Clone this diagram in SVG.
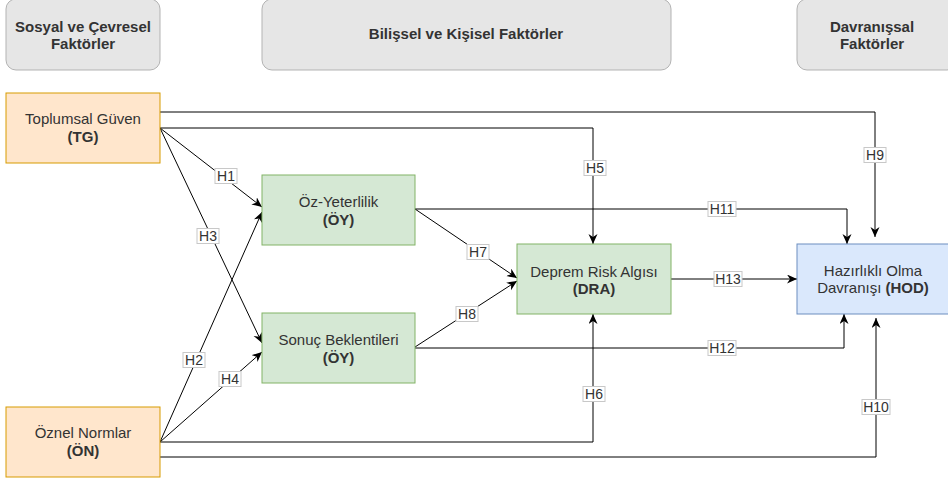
<svg xmlns="http://www.w3.org/2000/svg" width="948" height="479" viewBox="0 0 948 479">
<style>
text{font-family:"Liberation Sans",Arial,sans-serif;fill:#333;text-anchor:middle}
.hdr rect{fill:#e6e6e6;stroke:#b3b3b3;stroke-width:1}
.hdr text{font-size:15px;font-weight:bold}
.node text{font-size:15px}
.b{font-weight:bold}
.org{fill:#ffe6cc;stroke:#d79b00}
.grn{fill:#d5e8d4;stroke:#82b366}
.blu{fill:#dae8fc;stroke:#6c8ebf}
.edges path{fill:none;stroke:#000;stroke-width:1;marker-end:url(#arr)}
.lbl rect{fill:#fff;stroke:#c8c8c8;stroke-width:1}
.lbl text{font-size:14px}
</style>
<defs>
<marker id="arr" markerUnits="userSpaceOnUse" markerWidth="12" markerHeight="10" refX="10" refY="4.5" orient="auto" viewBox="0 0 12 10">
<path d="M0,0 L10,4.5 L0,9 L3,4.5 z" fill="#000"/>
</marker>
</defs>
<rect width="948" height="479" fill="#fff"/>
<g id="hdr-sosyal" class="hdr"><rect x="6" y="-1" width="154" height="71" rx="10"/><text x="83" y="32">Sosyal ve Çevresel</text><text x="83" y="49">Faktörler</text></g>
<g id="hdr-bilissel" class="hdr"><rect x="262" y="-1" width="409" height="71" rx="10"/><text x="466" y="39">Bilişsel ve Kişisel Faktörler</text></g>
<g id="hdr-davranissal" class="hdr"><rect x="797" y="-1" width="160" height="71" rx="10"/><text x="872" y="32">Davranışsal</text><text x="872" y="49">Faktörler</text></g>

<g class="edges">
<path d="M160,112 H875 V237"/>
<path d="M160,128 H593 V244"/>
<path d="M415,209 H847 V244"/>
<path d="M415,348 H844 V314"/>
<path d="M160,457 H876 V318"/>
<path d="M160,442 H593 V314"/>
<path d="M671,279 H797"/>
<path d="M160,128 L262,207"/>
<path d="M160,128 L262,343"/>
<path d="M160,442 L262,212"/>
<path d="M160,442 L262,352"/>
<path d="M415,209 L517,278"/>
<path d="M415,347 L517,281"/>
</g>
<g class="lbl">
<rect x="215" y="168.5" width="22" height="15"/><text x="226" y="181">H1</text>
<rect x="197" y="228.5" width="22" height="15"/><text x="208" y="241">H3</text>
<rect x="183" y="352.5" width="22" height="15"/><text x="194" y="365">H2</text>
<rect x="219" y="371.5" width="22" height="15"/><text x="230" y="384">H4</text>
<rect x="584" y="160.5" width="22" height="15"/><text x="595" y="173">H5</text>
<rect x="583" y="386.5" width="22" height="15"/><text x="594" y="399">H6</text>
<rect x="467" y="244.5" width="22" height="15"/><text x="478" y="257">H7</text>
<rect x="456" y="306.5" width="22" height="15"/><text x="467" y="319">H8</text>
<rect x="864" y="147.5" width="22" height="15"/><text x="875" y="160">H9</text>
<rect x="862" y="399.5" width="28" height="15"/><text x="876" y="412">H10</text>
<rect x="708" y="201.5" width="28" height="15"/><text x="722" y="214">H11</text>
<rect x="708" y="340.5" width="28" height="15"/><text x="722" y="353">H12</text>
<rect x="714" y="271.5" width="28" height="15"/><text x="728" y="284">H13</text>
</g>

<g id="TG" class="node"><rect class="org" x="6" y="93" width="154" height="70"/><text x="83" y="124">Toplumsal Güven</text><text class="b" x="83" y="142">(TG)</text></g>
<g id="ON" class="node"><rect class="org" x="6" y="407" width="154" height="70"/><text x="83" y="438">Öznel Normlar</text><text class="b" x="83" y="456">(ÖN)</text></g>
<g id="OY" class="node"><rect class="grn" x="262" y="175" width="153" height="70"/><text x="338.5" y="207">Öz-Yeterlilik</text><text class="b" x="338.5" y="225">(ÖY)</text></g>
<g id="SB" class="node"><rect class="grn" x="262" y="313" width="153" height="70"/><text x="338.5" y="345">Sonuç Beklentileri</text><text class="b" x="338.5" y="363">(ÖY)</text></g>
<g id="DRA" class="node"><rect class="grn" x="517" y="244" width="154" height="70"/><text x="594" y="277">Deprem Risk Algısı</text><text class="b" x="594" y="294">(DRA)</text></g>
<g id="HOD" class="node"><rect class="blu" x="797" y="244" width="160" height="70"/><text x="873" y="276">Hazırlıklı Olma</text><text x="873" y="293">Davranışı <tspan class="b">(HOD)</tspan></text></g>
</svg>
